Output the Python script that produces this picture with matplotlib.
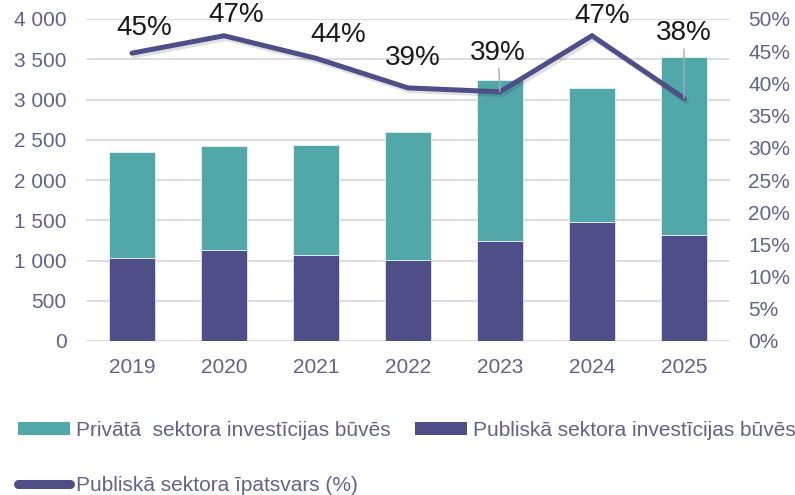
# -*- encoding: utf-8 -*-

import matplotlib
matplotlib.use('Agg')
from matplotlib import pyplot as plt
from matplotlib import patheffects as pe
from matplotlib.ticker import FuncFormatter, MultipleLocator
from matplotlib.patches import Patch
from matplotlib.lines import Line2D

# dati: investīcijas būvēs (milj. EUR) un publiskā sektora īpatsvars (%)
gadi = ['2019', '2020', '2021', '2022', '2023', '2024', '2025']
publ = [1031, 1130, 1068, 1006, 1242, 1474, 1317]
priv = [1317, 1292, 1367, 1590, 2000, 1673, 2215]
ipatsvars = [44.7, 47.4, 43.9, 39.3, 38.7, 47.4, 37.7]

# nobīdes uzrakstiem (pikseļos) un vai vajag pievadlīniju
uzr_nobide = [(12, 25), (12, 21), (22, 23), (5, 30), (-2, 39), (10, 20), (0, 65)]
uzr_linija = [False, False, False, False, True, False, True]

c_priv = '#52a8a8'
c_publ = '#4e4f88'
c_ticks = '#62628c'
c_grid = '#dcdbe6'

plt.rcParams['font.family'] = ['Liberation Sans', 'DejaVu Sans']

f1 = plt.figure(figsize=(7.95, 4.95), dpi=100)
ax1 = f1.add_axes([86/795, 1 - 341/495, 644/795, 322/495])
ax2 = ax1.twinx()

x = range(len(gadi))
b_publ = ax1.bar(x, publ, width=0.51, color=c_publ, edgecolor='#e4e4ee', linewidth=0.6, zorder=2)
b_priv = ax1.bar(x, priv, bottom=publ, width=0.51, color=c_priv, edgecolor='#e4f2f2', linewidth=0.6, zorder=2)

ax1.set_xlim(-0.5, 6.5)
ax1.set_ylim(0, 4000)
ax1.yaxis.set_major_locator(MultipleLocator(500))
ax1.yaxis.set_major_formatter(FuncFormatter(lambda v, p: '{:,.0f}'.format(v).replace(',', ' ')))
ax1.set_xticks(list(x))
ax1.set_xticklabels(gadi)
ax1.grid(True, axis='y', color=c_grid, linewidth=1.4, zorder=0)
ax1.set_axisbelow(True)

ax2.set_ylim(0, 50)
ax2.yaxis.set_major_locator(MultipleLocator(5))
ax2.yaxis.set_major_formatter(FuncFormatter(lambda v, p: '{:.0f}%'.format(v)))

for ax in (ax1, ax2):
    for s in ax.spines.values():
        s.set_visible(False)
    ax.tick_params(length=0, labelsize=15, labelcolor=c_ticks)
ax1.tick_params(axis='y', pad=14)
ax1.tick_params(axis='x', pad=12)
ax2.tick_params(axis='y', pad=13)

# līnija ar nelielu ēnu
lin, = ax2.plot(x, ipatsvars, color=c_publ, linewidth=3.6, solid_joinstyle='miter',
                solid_capstyle='round', zorder=5,
                path_effects=[pe.SimpleLineShadow(offset=(1.5, -2), alpha=0.12, shadow_color='k'),
                              pe.Normal()])

for i, v in enumerate(ipatsvars):
    ap = None
    if uzr_linija[i]:
        ap = dict(arrowstyle='-', color='#a9a9b5', linewidth=1.0, shrinkA=0, shrinkB=0)
    ax2.annotate('{:.0f}%'.format(v), xy=(i, v), xytext=uzr_nobide[i],
                 textcoords='offset pixels', ha='center', va='center',
                 fontsize=20, color='#1a1a1a', arrowprops=ap, zorder=6,
                 annotation_clip=False)

# leģenda
h_priv = Patch(facecolor=c_priv)
h_publ = Patch(facecolor=c_publ)
h_lin = Line2D([], [], color=c_publ, linewidth=6.5, solid_capstyle='round')
f1.legend((h_priv, h_lin, h_publ),
          ("Privātā  sektora investīcijas būvēs", "Publiskā sektora īpatsvars (%)",
           "Publiskā sektora investīcijas būvēs"),
          ncol=2, loc='upper left', bbox_to_anchor=(18/795, 1 - 421/495),
          frameon=False, borderpad=0, borderaxespad=0,
          handlelength=2.5, handleheight=0.53, handletextpad=0.29,
          columnspacing=1.15, labelspacing=1.71,
          prop={'family': 'Liberation Sans', 'size': 15},
          labelcolor=c_ticks)

f1.savefig('out.png', dpi=100)
